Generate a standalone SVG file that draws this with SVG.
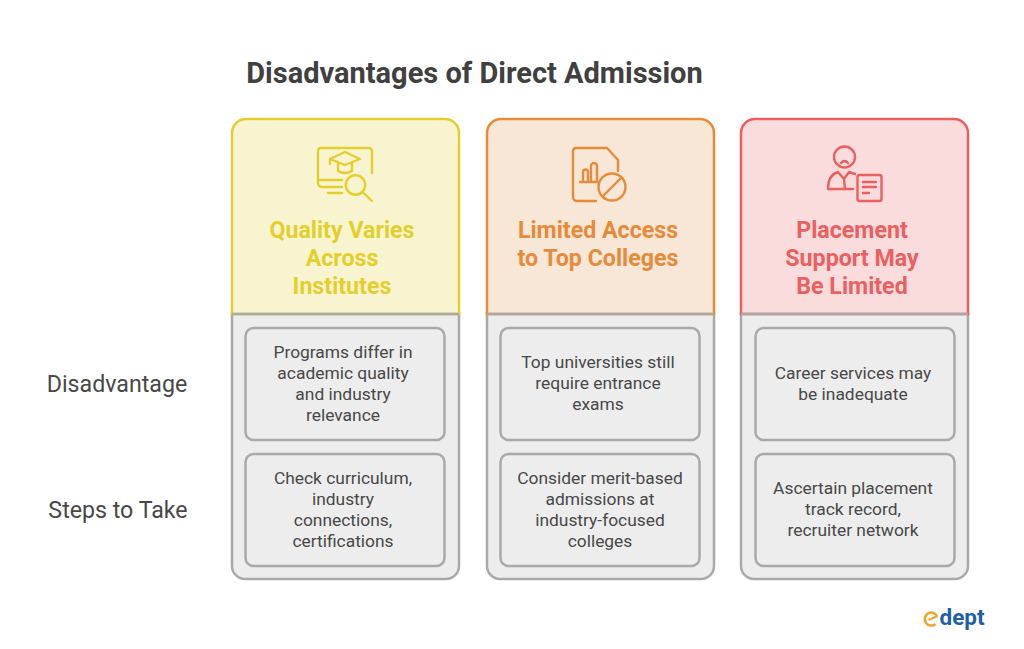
<svg xmlns="http://www.w3.org/2000/svg" width="1024" height="649" viewBox="0 0 1024 649">
<style>
text{font-family:Roboto,"Liberation Sans",sans-serif;text-anchor:middle}
.title{font-size:29px;font-weight:700;fill:#404040}
.side{font-size:23.2px;fill:#484848}
.head{font-size:23.2px;font-weight:700}
.body{font-size:17.4px;fill:#484848}
.lower{fill:#ededed;stroke:#a9a9a9;stroke-width:2.5}
.inner{fill:#ededed;stroke:#a9a9a9;stroke-width:2.5}
.ic{fill:none;stroke-width:2.4;stroke-linecap:round;stroke-linejoin:round}
.y{stroke:#e3cf2c}.o{stroke:#e58b3a}.r{stroke:#ea5f5f}
</style>
<rect width="1024" height="649" fill="#fff"/>
<text id="title" class="title" x="474.500" y="82.500">Disadvantages of Direct Admission</text>
<text class="side" x="117" y="392">Disadvantage</text>
<text class="side" x="118" y="518">Steps to Take</text>
<g id="col1">
<rect class="lower" x="232" y="300" width="227" height="279" rx="13"/>
<path d="M232 314V133a14 14 0 0 1 14-14H445a14 14 0 0 1 14 14V314Z" fill="#f9f4d0" stroke="#e3cf2c" stroke-width="2.5"/>
<path d="M232 314H459" stroke="#a9a9a9" stroke-width="2.5"/>
<g class="ic y">
<path d="M342 187H322a4 4 0 0 1-4-4V151a3 3 0 0 1 3-3H369a3 3 0 0 1 3 3V173"/>
<path d="M318 180H342M328 193H342"/>
<path d="M330 159L345 152L360 159L345 165ZM338 162V171Q345 175 352 171V162M330 159V164"/>
<circle cx="355.500" cy="185" r="9.700"/><path d="M362.500 192L372 201"/>
</g>
<text class="head" fill="#e3cf2c" x="342" y="238">Quality Varies</text>
<text class="head" fill="#e3cf2c" x="342" y="266">Across</text>
<text class="head" fill="#e3cf2c" x="342" y="294">Institutes</text>
<rect class="inner" x="245.500" y="328" width="199" height="112" rx="8"/>
<text class="body"><tspan x="343" y="358">Programs differ in</tspan><tspan x="343" y="379">academic quality</tspan><tspan x="343" y="400">and industry</tspan><tspan x="343" y="421">relevance</tspan></text>
<rect class="inner" x="245.500" y="454" width="199" height="112" rx="8"/>
<text class="body"><tspan x="343" y="484">Check curriculum,</tspan><tspan x="343" y="505">industry</tspan><tspan x="343" y="526">connections,</tspan><tspan x="343" y="547">certifications</tspan></text>
</g>
<g id="col2">
<rect class="lower" x="487" y="300" width="227" height="279" rx="13"/>
<path d="M487 314V133a14 14 0 0 1 14-14H700a14 14 0 0 1 14 14V314Z" fill="#f8e6d7" stroke="#e58b3a" stroke-width="2.5"/>
<path d="M487 314H714" stroke="#a9a9a9" stroke-width="2.500"/>
<g class="ic o">
<path d="M596 201H577a4 4 0 0 1-4-4V151a3 3 0 0 1 3-3H607L618 160V171"/>
<path d="M580 182H598M583 182V172a2.500 2.500 0 0 1 5 0V182M591 182V166a3 3 0 0 1 6 0V182"/>
<circle cx="612" cy="187" r="13.500"/><path d="M603 196L621 178"/>
</g>
<text class="head" fill="#e58b3a" x="598" y="238">Limited Access</text>
<text class="head" fill="#e58b3a" x="598" y="266">to Top Colleges</text>
<rect class="inner" x="500.500" y="328" width="199" height="112" rx="8"/>
<text class="body"><tspan x="598" y="368">Top universities still</tspan><tspan x="598" y="389">require entrance</tspan><tspan x="598" y="410">exams</tspan></text>
<rect class="inner" x="500.500" y="454" width="199" height="112" rx="8"/>
<text class="body"><tspan x="600" y="484">Consider merit-based</tspan><tspan x="600" y="505">admissions at</tspan><tspan x="600" y="526">industry-focused</tspan><tspan x="600" y="547">colleges</tspan></text>
</g>
<g id="col3">
<rect class="lower" x="741" y="300" width="227" height="279" rx="13"/>
<path d="M741 314V133a14 14 0 0 1 14-14H954a14 14 0 0 1 14 14V314Z" fill="#fbdcdc" stroke="#ea5f5f" stroke-width="2.5"/>
<path d="M741 314H968" stroke="#a9a9a9" stroke-width="2.5"/>
<g class="ic r">
<circle cx="844.500" cy="157" r="10.500"/><path d="M841 163Q844.500 159 848 163"/>
<path d="M828 189Q828 175 838 172L844 179L849 172Q852 173 855 174M828 189H853M844 179L845 189"/>
<rect x="857.500" y="175" width="24" height="26" rx="2"/>
<path d="M863 182H876M863 187H876M863 193H869"/>
</g>
<text class="head" fill="#ea5f5f" x="852" y="238">Placement</text>
<text class="head" fill="#ea5f5f" x="852" y="266">Support May</text>
<text class="head" fill="#ea5f5f" x="852" y="294">Be Limited</text>
<rect class="inner" x="755.500" y="328" width="199" height="112" rx="8"/>
<text class="body"><tspan x="853" y="379">Career services may</tspan><tspan x="853" y="400">be inadequate</tspan></text>
<rect class="inner" x="755.500" y="454" width="199" height="112" rx="8"/>
<text class="body"><tspan x="853" y="494">Ascertain placement</tspan><tspan x="853" y="515">track record,</tspan><tspan x="853" y="536">recruiter network</tspan></text>
</g>
<g id="logo">
<path d="M937 616A6.500 6.500 0 1 0 935.500 624" fill="none" stroke="#f0a52d" stroke-width="2.600"/>
<path d="M928.500 620L937.500 616" stroke="#f0a52d" stroke-width="2.200"/>
<text x="939.500" y="625" font-size="22.500" font-weight="700" fill="#1f5fa8" style="text-anchor:start">dept</text>
</g>
<g id="connectors"/>
</svg>
